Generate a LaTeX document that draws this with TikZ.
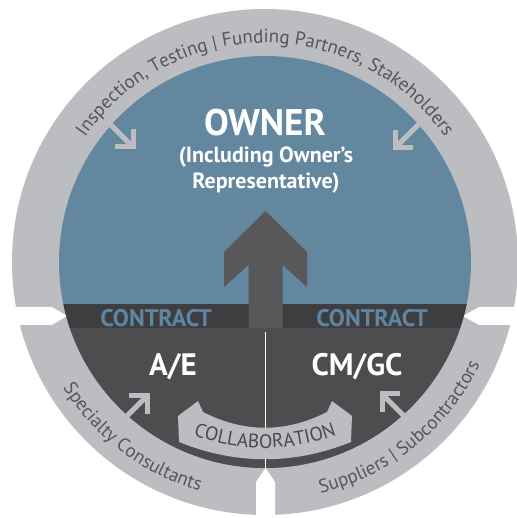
\documentclass[tikz,border=0pt]{standalone}
\usepackage{fontspec}
\setmainfont{PT Sans}
\usetikzlibrary{decorations.text}
\definecolor{ring}{HTML}{BCBDC0}
\definecolor{ownerblue}{HTML}{63879F}
\definecolor{bandgray}{HTML}{3E3E40}
\definecolor{lowgray}{HTML}{4D4D4F}
\definecolor{arrowgray}{HTML}{58585A}
\definecolor{contracttext}{HTML}{5E85A2}
\definecolor{ringtext}{HTML}{555658}
\definecolor{collabtext}{HTML}{4A4A4C}
\newcommand\ringfnt{\fontsize{19}{19}\selectfont\color{ringtext}}
\newcommand\collabfnt{\fontsize{19.5}{19.5}\selectfont\color{collabtext}}
\begin{document}
\begin{tikzpicture}[x=1pt,y=1pt,
  smallarrow/.style={draw=ring,line width=5pt},
  headarrow/.style={draw=ring,line width=5pt,line join=miter},
  whitetext/.style={text=white,font=\bfseries,inner sep=0pt},
  contractlbl/.style={text=contracttext,font=\bfseries\fontsize{24}{24}\selectfont,inner sep=0pt},
  partylbl/.style={text=white,font=\bfseries\fontsize{31}{31}\selectfont,inner sep=0pt},
  ringpath/.style={decorate,decoration={text along path,text format delimiters={[}{]},text align=center}}]
\useasboundingbox (0,0) rectangle (516,518);
\fill[white] (0,0) rectangle (516,518);
\coordinate (C) at (265,256);
% outer ring
\fill[ring] (C) circle[radius=253];
% notches
\fill[white] (-2,211) -- (52,211) -- (67,202) -- (52,193) -- (-2,193) -- cycle;
\fill[white] (520,211) -- (479,211) -- (463,202) -- (479,193) -- (520,193) -- cycle;
\fill[white] (256,-2) -- (256,36) -- (265.5,50) -- (275,36) -- (275,-2) -- cycle;
% inner disc
\fill[ownerblue] (C) circle[radius=206];
\begin{scope}
\clip (C) circle[radius=206];
\fill[lowgray] (0,0) rectangle (516,190);
\fill[bandgray] (0,190) rectangle (516,214);
\end{scope}
% main arrow
\fill[arrowgray] (265.5,307) -- (307,266) -- (307,231) -- (282.5,253) -- (282.5,190)
  -- (248.5,190) -- (248.5,253) -- (224,231) -- (224,266) -- cycle;
% divider
\coordinate (divtop) at (265.5,186);
\coordinate (divbot) at (265.5,50);
\draw[white,line width=1.6pt] (divtop) -- (divbot);
% small arrows
\coordinate (tlA) at (103,401); \coordinate (tlT) at (133,371);
\coordinate (tlH1) at (115,371); \coordinate (tlH2) at (133,389);
\draw[smallarrow] (tlA) -- (tlT);
\draw[headarrow] (tlH1) -- (tlT) -- (tlH2);
\coordinate (trA) at (425,400); \coordinate (trT) at (395,370);
\coordinate (trH1) at (413,370); \coordinate (trH2) at (395,388);
\draw[smallarrow] (trA) -- (trT);
\draw[headarrow] (trH1) -- (trT) -- (trH2);
\coordinate (blA) at (117,92); \coordinate (blT) at (147,122);
\coordinate (blH1) at (129,122); \coordinate (blH2) at (147,104);
\draw[smallarrow] (blA) -- (blT);
\draw[headarrow] (blH1) -- (blT) -- (blH2);
\coordinate (brA) at (412,94); \coordinate (brT) at (382,124);
\coordinate (brH1) at (400,124); \coordinate (brH2) at (382,106);
\draw[smallarrow] (brA) -- (brT);
\draw[headarrow] (brH1) -- (brT) -- (brH2);
% collaboration band
\fill[ring] (179,76) -- (178,102) -- (198,117) -- (203,106)
  .. controls (244,85) and (286,85) .. (327,106)
  -- (332,117) -- (352,102) -- (351,76)
  .. controls (294,53) and (236,53) .. (179,76) -- cycle;
\path[ringpath,decoration={text={[\collabfnt]COLLABORATION}}]
  ([shift={(237:205)}]265,275) arc[start angle=237,end angle=303,radius=205];
% ring texts
\path[ringpath,decoration={text={[\ringfnt]Inspection, Testing | Funding Partners, Stakeholders}}]
  ([shift={(165:219)}]C) arc[start angle=165,end angle=15,radius=219];
\path[ringpath,decoration={text={[\ringfnt]Specialty Consultants}}]
  ([shift={(198:238)}]C) arc[start angle=198,end angle=268,radius=238];
\path[ringpath,decoration={text={[\ringfnt]Suppliers | Subcontractors}}]
  ([shift={(272:238)}]C) arc[start angle=272,end angle=346,radius=238];
% labels
\node[whitetext,font=\bfseries\fontsize{37}{37}\selectfont] (owner) at (265,395) {OWNER};
\node[whitetext,font=\bfseries\fontsize{22}{22}\selectfont] (incl) at (266,361) {(Including Owner’s};
\node[whitetext,font=\bfseries\fontsize{22}{22}\selectfont] (rep) at (266,335) {Representative)};
\node[contractlbl] (c1) at (156,200) {CONTRACT};
\node[contractlbl] (c2) at (372,200) {CONTRACT};
\node[partylbl] (ae) at (173,151) {A/E};
\node[partylbl] (cm) at (357,151) {CM/GC};
\end{tikzpicture}
\end{document}
